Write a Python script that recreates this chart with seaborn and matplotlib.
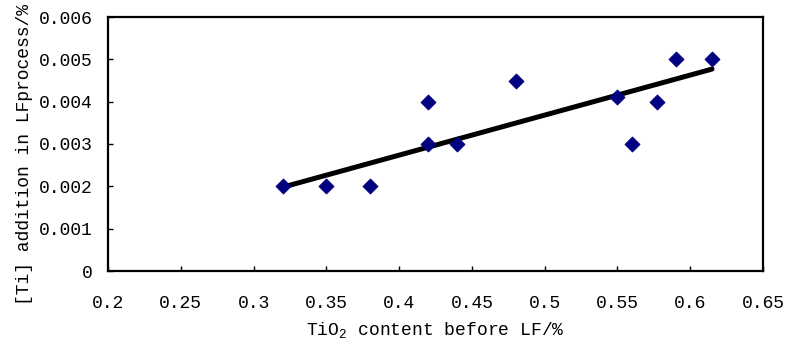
import matplotlib
matplotlib.use("Agg")
import matplotlib.pyplot as plt
import seaborn as sns
import pandas as pd

# data
tio2 = [0.32, 0.35, 0.38, 0.42, 0.42, 0.44, 0.48, 0.55, 0.56, 0.577, 0.59, 0.615]
ti_add = [0.002, 0.002, 0.002, 0.004, 0.003, 0.003, 0.0045, 0.0041, 0.003, 0.004, 0.005, 0.005]
trend_x = [0.32, 0.615]
trend_y = [0.00198, 0.00477]
xticks = [0.2, 0.25, 0.3, 0.35, 0.4, 0.45, 0.5, 0.55, 0.6, 0.65]
xtick_labels = ["0.2", "0.25", "0.3", "0.35", "0.4", "0.45", "0.5", "0.55", "0.6", "0.65"]
yticks = [0, 0.001, 0.002, 0.003, 0.004, 0.005, 0.006]
ytick_labels = ["0", "0.001", "0.002", "0.003", "0.004", "0.005", "0.006"]

sns.set_theme(style="white")
plt.rcParams['font.family'] = ['Liberation Mono', 'DejaVu Sans Mono']
plt.rcParams['mathtext.fontset'] = 'custom'
plt.rcParams['mathtext.rm'] = 'Liberation Mono'
plt.rcParams['mathtext.default'] = 'regular'

FS = 13

df = pd.DataFrame({"x": tio2, "y": ti_add})
tr = pd.DataFrame({"x": trend_x, "y": trend_y})

fig = plt.figure(figsize=(7.89, 3.49), dpi=100)
ax = fig.add_axes([108/789, 1-271/349, (763-108)/789, (271-17)/349])

sns.lineplot(data=tr, x="x", y="y", ax=ax, color="black", linewidth=3.6, zorder=2)
sns.scatterplot(data=df, x="x", y="y", ax=ax, marker="D", s=60, color="#000080",
                edgecolor="#000080", linewidth=0.5, zorder=3)

ax.set_xlim(0.2, 0.65)
ax.set_ylim(0, 0.006)
ax.set_xticks(xticks)
ax.set_xticklabels(xtick_labels)
ax.set_yticks(yticks)
ax.set_yticklabels(ytick_labels)
ax.tick_params(axis='both', direction='in', length=3.6, width=1, color='black',
               labelsize=FS, labelcolor='black', bottom=True, left=True, top=False, right=False)
ax.tick_params(axis='x', pad=17)
ax.tick_params(axis='y', pad=11)
for s in ax.spines.values():
    s.set_visible(True)
    s.set_color('black')
    s.set_linewidth(1.6)

ax.set_xlabel("TiO$_2$ content before LF/%", fontsize=FS, color='black', labelpad=6)
ax.set_ylabel("[Ti] addition in LFprocess/%", fontsize=FS, color='black', labelpad=4)
ax.yaxis.set_label_coords(-0.115, 0.457)
ax.grid(False)

fig.savefig("out.png", dpi=100)
